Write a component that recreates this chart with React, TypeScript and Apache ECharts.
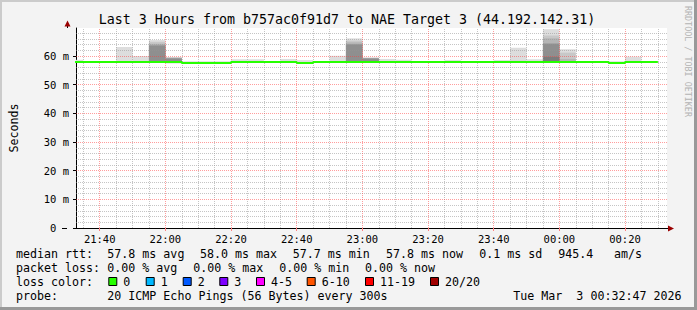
import React, { useEffect, useRef } from "react";
import * as echarts from "echarts";

// ---- data ----
const titleText = "Last 3 Hours from b757ac0f91d7 to NAE Target 3 (44.192.142.31)";
const yAxisTitle = "Seconds";
const watermarkText = "RRDTOOL / TOBI OETIKER";

// 5-minute bins, labelled by their end time (Mar 2 evening -> Mar 3 morning)
const binEnds = [
  "21:35", "21:40", "21:45", "21:50", "21:55", "22:00", "22:05", "22:10", "22:15",
  "22:20", "22:25", "22:30", "22:35", "22:40", "22:45", "22:50", "22:55", "23:00",
  "23:05", "23:10", "23:15", "23:20", "23:25", "23:30", "23:35", "23:40", "23:45",
  "23:50", "23:55", "00:00", "00:05", "00:10", "00:15", "00:20", "00:25", "00:30",
];
// median rtt (ms)
const medianRtt = [
  57.9, 57.9, 57.9, 57.9, 57.9, 57.9, 57.9, 57.6, 57.6,
  57.6, 57.9, 57.9, 57.9, 57.9, 57.6, 57.9, 57.9, 57.9,
  57.9, 57.9, 57.9, 57.9, 57.9, 57.9, 57.9, 57.9, 57.9,
  57.9, 57.9, 57.9, 57.9, 57.9, 57.9, 57.6, 57.9, 57.9,
];
// sorted pings (ms): the highest ones (smoke above the median)
const ping20 = [
  58.7, 58.1, 58.1, 63.2, 60.0, 65.6, 59.6, 58.2, 58.2,
  58.2, 58.9, 58.9, 58.1, 59.0, 58.6, 58.1, 60.1, 66.2,
  59.5, 59.0, 58.7, 58.1, 58.1, 58.6, 58.1, 58.1, 58.6,
  62.9, 58.9, 69.4, 62.4, 58.1, 58.1, 58.2, 59.8, 58.1,
];
const ping19 = [
  57.9, 57.9, 57.9, 58.2, 57.9, 65.0, 59.5, 57.6, 57.6,
  57.6, 57.9, 57.9, 57.9, 57.9, 57.6, 57.9, 57.9, 65.4,
  59.4, 57.9, 57.9, 57.9, 57.9, 57.9, 57.9, 57.9, 57.9,
  58.4, 57.9, 67.2, 61.2, 57.9, 57.9, 57.6, 57.9, 57.9,
];
const ping18 = [
  57.9, 57.9, 57.9, 57.9, 57.9, 64.3, 59.4, 57.6, 57.6,
  57.6, 57.9, 57.9, 57.9, 57.9, 57.6, 57.9, 57.9, 64.8,
  59.3, 57.9, 57.9, 57.9, 57.9, 57.9, 57.9, 57.9, 57.9,
  57.9, 57.9, 66.2, 59.0, 57.9, 57.9, 57.6, 57.9, 57.9,
];
const ping17 = [
  57.9, 57.9, 57.9, 57.9, 57.9, 63.9, 59.3, 57.6, 57.6,
  57.6, 57.9, 57.9, 57.9, 57.9, 57.6, 57.9, 57.9, 64.2,
  59.2, 57.9, 57.9, 57.9, 57.9, 57.9, 57.9, 57.9, 57.9,
  57.9, 57.9, 64.4, 58.2, 57.9, 57.9, 57.6, 57.9, 57.9,
];
const ping16 = [
  57.9, 57.9, 57.9, 57.9, 57.9, 63.6, 59.1, 57.6, 57.6,
  57.6, 57.9, 57.9, 57.9, 57.9, 57.6, 57.9, 57.9, 64.0,
  59.1, 57.9, 57.9, 57.9, 57.9, 57.9, 57.9, 57.9, 57.9,
  57.9, 57.9, 64.3, 57.9, 57.9, 57.9, 57.6, 57.9, 57.9,
];
const ping15 = [
  57.9, 57.9, 57.9, 57.9, 57.9, 58.0, 58.0, 57.6, 57.6,
  57.6, 57.9, 57.9, 57.9, 57.9, 57.6, 57.9, 57.9, 58.0,
  58.0, 57.9, 57.9, 57.9, 57.9, 57.9, 57.9, 57.9, 57.9,
  57.9, 57.9, 59.7, 57.9, 57.9, 57.9, 57.6, 57.9, 57.9,
];
// lowest ping (ms)
const pingMin = [
  57.8, 57.9, 57.9, 57.9, 57.9, 57.9, 57.4, 57.6, 57.6,
  57.6, 57.9, 57.9, 57.9, 57.9, 57.6, 57.9, 57.9, 57.9,
  57.9, 57.9, 57.9, 57.9, 57.9, 57.9, 57.9, 57.9, 57.9,
  57.9, 57.9, 57.9, 57.9, 57.9, 57.9, 57.6, 57.9, 57.9,
];

const xTickLabels = ["21:40", "22:00", "22:20", "22:40", "23:00", "23:20", "23:40", "00:00", "00:20"];
const yTickValues = [0, 10, 20, 30, 40, 50, 60];
const yMax = 69.8;
const windowStart = "21:32:47";
const windowEnd = "00:32:47";

const rttLegend = ["median rtt:", "57.8 ms avg", "58.0 ms max", "57.7 ms min", "57.8 ms now", "0.1 ms sd", "945.4", "am/s"];
const lossLegend = ["packet loss:", "0.00 % avg", "0.00 % max", "0.00 % min", "0.00 % now"];
const lossColorTitle = "loss color:";
const lossLabels = ["0", "1", "2", "3", "4-5", "6-10", "11-19", "20/20"];
const lossColors = ["#26ff00", "#00b8ff", "#0059ff", "#7e00ff", "#ff00ff", "#ff5500", "#ff0000", "#a00000"];
const probeLegend = ["probe:", "20 ICMP Echo Pings (56 Bytes) every 300s", "Tue Mar  3 00:32:47 2026"];

// ---- helpers ----
const toTs = (hms: string) => {
  const [h, m, s] = hms.split(":").map(Number);
  const day = h >= 12 ? 2 : 3;
  return Date.UTC(2026, 2, day, h, m, s || 0);
};
const STEP = 5 * 60 * 1000;

export default function App() {
  const ref = useRef<HTMLDivElement>(null);

  useEffect(() => {
    if (!ref.current) return;
    const chart = echarts.init(ref.current, null, { renderer: "svg" });
    const mono = '"DejaVu Sans Mono", monospace';
    const xMin = toTs(windowStart);
    const xMax = toTs(windowEnd);

    // smoke layers (outermost lightest first, inner darker on top)
    const pingLayers = [ping20, ping19, ping18, ping17, ping16, ping15];
    const shades = ["#dddddd", "#c8c8c8", "#b5b5b5", "#a2a2a2", "#8f8f8f", "#7c7c7c"];
    const smokeData: number[][] = [];
    pingLayers.forEach((arr, k) => {
      binEnds.forEach((t, i) => {
        const end = toTs(t);
        const low = k === 0 ? Math.min(pingMin[i], medianRtt[i]) : medianRtt[i];
        const high = arr[i];
        if (high > low) smokeData.push([end - STEP, end, k, low, high]);
      });
    });

    const lineData: number[][] = [[toTs(binEnds[0]) - STEP, medianRtt[0]]];
    binEnds.forEach((t, i) => lineData.push([toTs(t), medianRtt[i]]));

    // grid lines
    const minorCol = "rgba(150,150,150,0.55)";
    const majorCol = "rgba(255,60,60,0.5)";
    const gridMarks: any[] = [];
    for (let v = 2; v < yMax; v += 2) {
      if (v % 10 !== 0) gridMarks.push({ yAxis: v, lineStyle: { color: minorCol, type: [1, 1], width: 1 } });
    }
    const firstFive = Math.ceil(xMin / STEP) * STEP;
    const majorTs = xTickLabels.map(toTs);
    for (let t = firstFive; t < xMax; t += STEP) {
      if (!majorTs.includes(t)) gridMarks.push({ xAxis: t, lineStyle: { color: minorCol, type: [1, 1], width: 1 } });
    }
    yTickValues.forEach((v) => {
      if (v > 0) gridMarks.push({ yAxis: v, lineStyle: { color: majorCol, type: [1, 1], width: 1 } });
    });
    majorTs.forEach((t) => gridMarks.push({ xAxis: t, lineStyle: { color: majorCol, type: [1, 1], width: 1 } }));

    const fmtTime = (v: number) => {
      const d = new Date(v);
      return `${String(d.getUTCHours()).padStart(2, "0")}:${String(d.getUTCMinutes()).padStart(2, "0")}`;
    };

    const txt = (x: number, y: number, text: string, extra: any = {}) => ({
      type: "text",
      x,
      y,
      silent: true,
      style: { text, fill: "#000", fontFamily: mono, fontSize: 11.65, verticalAlign: "middle", ...extra },
    });

    // legend layout
    const rttX = [16, 107.3, 200, 292.7, 386, 479.3, 558.3, 614];
    const lossX = [16, 107.3, 193.3, 279.3, 365];
    const swatchX = [108.3, 145.7, 182.7, 219.3, 256, 306.7, 365, 430];
    const probeX = [16, 107.3, 513.3];

    const graphics: any[] = [
      { type: "rect", shape: { x: 0, y: 0, width: 697, height: 2 }, style: { fill: "#cbcbcb" }, silent: true },
      { type: "rect", shape: { x: 0, y: 0, width: 2, height: 310 }, style: { fill: "#cbcbcb" }, silent: true },
      { type: "rect", shape: { x: 694, y: 0, width: 3, height: 310 }, style: { fill: "#999999" }, silent: true },
      { type: "rect", shape: { x: 0, y: 307, width: 697, height: 3 }, style: { fill: "#999999" }, silent: true },
      txt(347, 19, titleText, { fontSize: 13.3, align: "center" }),
      {
        type: "text", x: 688, y: 6, rotation: -Math.PI / 2, silent: true,
        style: { text: watermarkText, fill: "#b4b4b4", fontFamily: mono, fontSize: 8.4, verticalAlign: "middle", align: "left" },
      },
      { type: "line", shape: { x1: 62, y1: 228.5, x2: 67, y2: 228.5 }, style: { stroke: "#000", lineWidth: 1 }, silent: true },
      { type: "line", shape: { x1: 67.5, y1: 25, x2: 67.5, y2: 28 }, style: { stroke: "#000", lineWidth: 1 }, silent: true },
      { type: "line", shape: { x1: 667, y1: 228.5, x2: 669, y2: 228.5 }, style: { stroke: "#000", lineWidth: 1 }, silent: true },
      { type: "polygon", shape: { points: [[64.5, 26.5], [67.5, 20.5], [70.5, 26.5]] }, style: { fill: "#9a0000" }, silent: true },
      { type: "polygon", shape: { points: [[668, 225.5], [674, 228.5], [668, 231.5]] }, style: { fill: "#9a0000" }, silent: true },
    ];
    rttLegend.forEach((s, i) => graphics.push(txt(rttX[i], 254, s)));
    lossLegend.forEach((s, i) => graphics.push(txt(lossX[i], 268, s)));
    graphics.push(txt(16, 282, lossColorTitle));
    lossLabels.forEach((s, i) => {
      graphics.push({
        type: "rect", silent: true,
        shape: { x: swatchX[i] + 0.5, y: 277.5, width: 8, height: 8 },
        style: { fill: lossColors[i], stroke: "#000", lineWidth: 1 },
      });
      graphics.push(txt(swatchX[i] + 15, 282, s));
    });
    probeLegend.forEach((s, i) => graphics.push(txt(probeX[i], 296, s)));

    chart.setOption({
      animation: false,
      backgroundColor: "#f3f3f3",
      grid: { left: 67, top: 28, width: 600, height: 200, show: true, backgroundColor: "#ffffff", borderWidth: 0 },
      xAxis: {
        type: "value",
        min: xMin,
        max: xMax,
        scale: true,
        axisLine: { show: true, onZero: false, lineStyle: { color: "#000", width: 1 } },
        axisTick: { show: true, length: 3, customValues: majorTs, lineStyle: { color: "#ff8080" } },
        splitLine: { show: false },
        axisLabel: {
          customValues: majorTs,
          formatter: (v: number) => fmtTime(v),
          fontFamily: mono,
          fontSize: 10.5,
          color: "#000",
          margin: 5,
          hideOverlap: false,
        },
      },
      yAxis: {
        type: "value",
        min: 0,
        max: yMax,
        interval: 10,
        name: yAxisTitle,
        nameLocation: "middle",
        nameRotate: 90,
        nameGap: 56,
        nameTextStyle: { fontFamily: mono, fontSize: 11.65, color: "#000" },
        axisLine: { show: true, lineStyle: { color: "#000", width: 1 } },
        axisTick: { show: true, length: 3, customValues: yTickValues, lineStyle: { color: "#000" } },
        splitLine: { show: false },
        axisLabel: {
          customValues: yTickValues,
          formatter: (v: number) => (v === 0 ? "0\u00a0\u00a0" : `${v} m`),
          fontFamily: mono,
          fontSize: 10.5,
          color: "#000",
          margin: 7,
        },
      },
      series: [
        {
          type: "line",
          data: [],
          z: 1,
          silent: true,
          markLine: { silent: true, symbol: "none", label: { show: false }, animation: false, data: gridMarks },
        },
        {
          type: "custom",
          z: 2,
          silent: true,
          clip: true,
          data: smokeData,
          encode: { x: [0, 1], y: [3, 4] },
          renderItem: (params: any, api: any) => {
            const p0 = api.coord([api.value(0), api.value(3)]);
            const p1 = api.coord([api.value(1), api.value(4)]);
            const k = api.value(2);
            return {
              type: "rect",
              shape: { x: p0[0], y: p1[1], width: p1[0] - p0[0], height: p0[1] - p1[1] },
              style: { fill: shades[k] },
            };
          },
        },
        {
          type: "line",
          z: 5,
          silent: true,
          step: "start",
          symbol: "none",
          data: lineData,
          lineStyle: { color: "#26ff00", width: 2 },
        },
      ],
      graphic: graphics,
    });
    return () => chart.dispose();
  }, []);

  return <div ref={ref} style={{ position: "fixed", left: 0, top: 0, width: 697, height: 310 }} />;
}
